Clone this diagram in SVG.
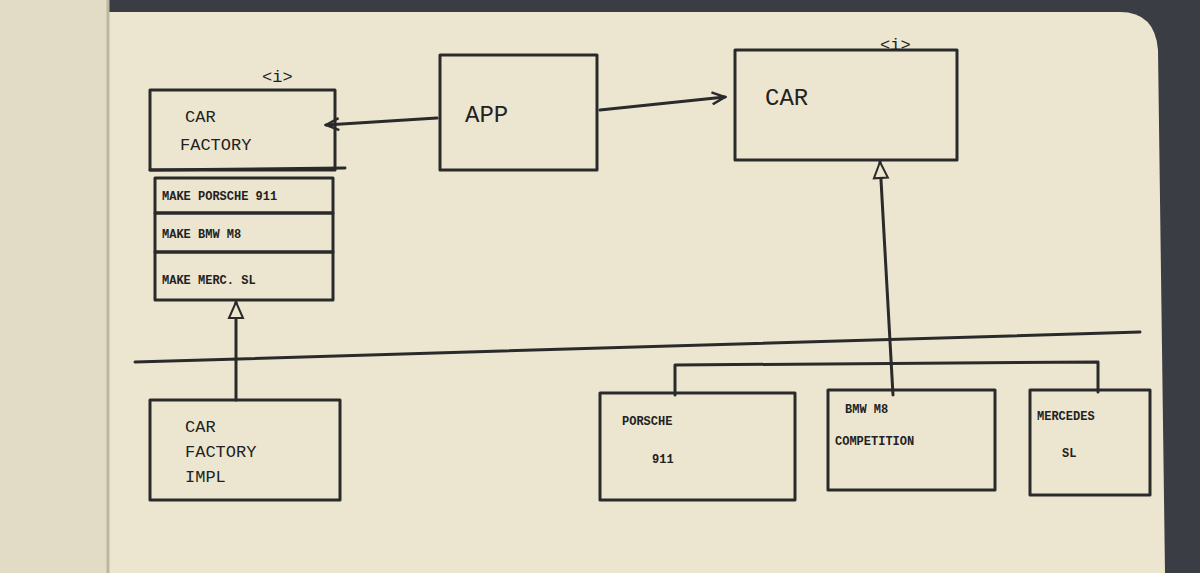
<svg xmlns="http://www.w3.org/2000/svg" width="1200" height="573" viewBox="0 0 1200 573">
<style>
.b{fill:none;stroke:#2a2a2a;stroke-width:3;stroke-linejoin:round;stroke-linecap:round}
.t{font-family:"Liberation Mono",monospace;font-size:17px;fill:#222}
.s{font-family:"Liberation Mono",monospace;font-size:12px;font-weight:bold;fill:#222}
.l{font-family:"Liberation Mono",monospace;font-size:24px;fill:#222}
</style>
<defs>
<marker id="open" markerWidth="16" markerHeight="14" refX="14" refY="7" orient="auto" markerUnits="userSpaceOnUse">
<path d="M1,1 L14,7 L1,13" fill="none" stroke="#2a2a2a" stroke-width="2.5"/>
</marker>
<marker id="tri" markerWidth="20" markerHeight="18" refX="18" refY="9" orient="auto" markerUnits="userSpaceOnUse">
<path d="M2,2 L18,9 L2,16 Z" fill="#ece6cf" stroke="#2a2a2a" stroke-width="2"/>
</marker>
</defs>
<rect width="1200" height="573" fill="#3b3d44"/>
<path d="M108,12 H1120 Q1155,12 1158,50 L1165,573 H108 Z" fill="#ece6d0"/>
<path d="M0,0 H108 V573 H0 Z" fill="#e2dcc6"/>
<line x1="108" y1="0" x2="108" y2="573" stroke="#bdb6a0" stroke-width="3"/>
<g id="connectors">
<line class="b" x1="437" y1="118" x2="326" y2="125" marker-end="url(#open)"/>
<line class="b" x1="600" y1="110" x2="725" y2="97" marker-end="url(#open)"/>
<line class="b" x1="893" y1="395" x2="880" y2="162" marker-end="url(#tri)"/>
<line class="b" x1="236" y1="400" x2="236" y2="302" marker-end="url(#tri)"/>
<line class="b" x1="135" y1="362" x2="1140" y2="332"/>
<polyline class="b" points="675,395 675,365 1098,362 1098,392"/>
</g>
<g id="carfactory">
<rect class="b" x="150" y="90" width="185" height="80"/>
<line class="b" x1="150" y1="170" x2="345" y2="168"/>
<rect class="b" x="155" y="178" width="178" height="35"/>
<rect class="b" x="155" y="213" width="178" height="39"/>
<rect class="b" x="155" y="252" width="178" height="48"/>
<text class="t" x="262" y="82">&lt;i&gt;</text>
<text class="t" x="185" y="122">CAR</text>
<text class="t" x="180" y="150">FACTORY</text>
<text class="s" x="162" y="200">MAKE PORSCHE 911</text>
<text class="s" x="162" y="238">MAKE BMW M8</text>
<text class="s" x="162" y="284">MAKE MERC. SL</text>
</g>
<g id="app">
<rect class="b" x="440" y="55" width="157" height="115"/>
<text class="l" x="465" y="122">APP</text>
</g>
<g id="car">
<rect class="b" x="735" y="50" width="222" height="110"/>
<text class="t" x="880" y="50">&lt;i&gt;</text>
<text class="l" x="765" y="105">CAR</text>
</g>
<g id="carfactoryimpl">
<rect class="b" x="150" y="400" width="190" height="100"/>
<text class="t" x="185" y="432">CAR</text>
<text class="t" x="185" y="457">FACTORY</text>
<text class="t" x="185" y="482">IMPL</text>
</g>
<g id="porsche">
<rect class="b" x="600" y="393" width="195" height="107"/>
<text class="s" x="622" y="425">PORSCHE</text>
<text class="s" x="652" y="463">911</text>
</g>
<g id="bmw">
<rect class="b" x="828" y="390" width="167" height="100"/>
<text class="s" x="845" y="413">BMW M8</text>
<text class="s" x="835" y="445">COMPETITION</text>
</g>
<g id="mercedes">
<rect class="b" x="1030" y="390" width="120" height="105"/>
<text class="s" x="1037" y="420">MERCEDES</text>
<text class="s" x="1062" y="457">SL</text>
</g>
</svg>
